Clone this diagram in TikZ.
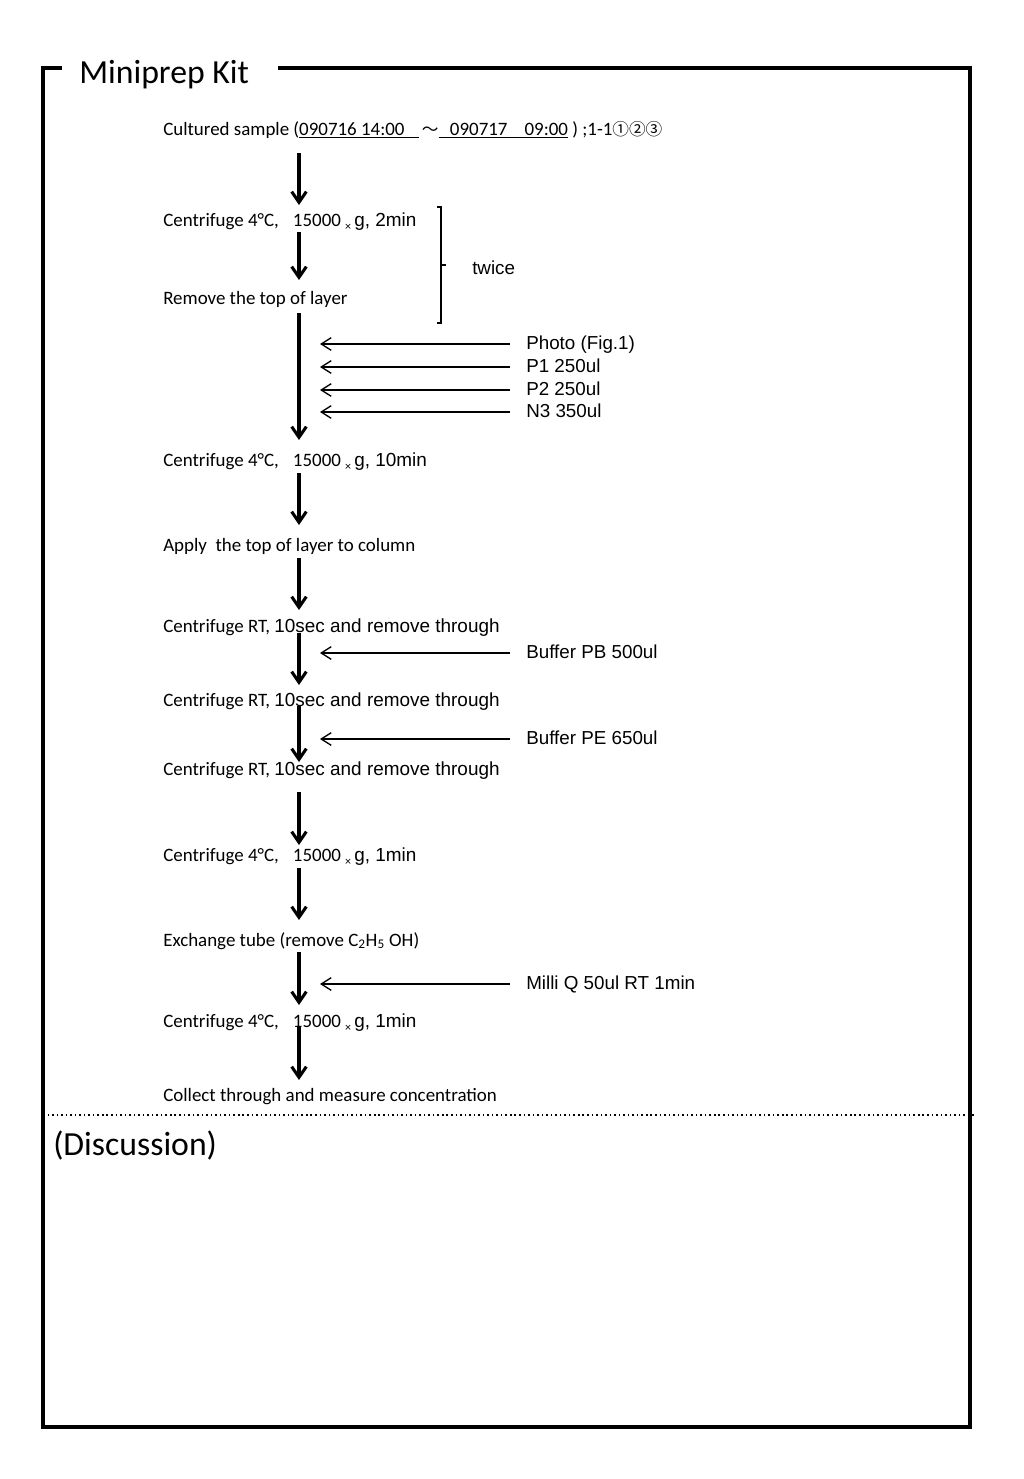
\documentclass[tikz,border=0pt]{standalone}
\usepackage{fontspec}
\setmainfont{Carlito}
\newfontfamily\arial{Liberation Sans}
\newfontfamily\cjk{Noto Sans CJK JP}
\usetikzlibrary{arrows.meta}
\newcommand{\timesg}{\raisebox{-3pt}{\fontsize{9}{10}\selectfont ×}\,{\arial g,}}
\begin{document}
\begin{tikzpicture}[x=0.75pt,y=-0.75pt,
  steptext/.style={anchor=base west, inner sep=0pt, font=\fontsize{14.2}{16}\selectfont},
  sidetext/.style={anchor=base west, inner sep=0pt, font=\arial\fontsize{14.1}{16}\selectfont},
  bigtext/.style={anchor=base west, inner sep=0pt, font=\fontsize{25.3}{30}\selectfont},
  mainarrow/.style={line width=2.3pt, -{Straight Barb[length=8pt,width=11pt]}},
  addarrow/.style={line width=1pt, -{Straight Barb[length=7.5pt,width=9.5pt]}},
  frame/.style={line width=3pt}]
\useasboundingbox (0,0) rectangle (1024,1479);
% frame
\draw[frame] (62,68) -- (43,68) -- (43,1427) -- (970,1427) -- (970,68) -- (278,68);
\node[bigtext] (title) at (79,83) {Miniprep Kit};
% steps
\node[steptext] (s1) at (163,135) {Cultured sample (\underline{090716 14:00\hspace{0.75em}}\,{\cjk\fontsize{12.5}{14}\selectfont ～}\underline{\hspace{0.6em}090717\hspace{0.9em}09:00} ) ;1-1{\cjk\fontsize{12.5}{14}\selectfont ①②③}};
\node[steptext] (s2) at (163,226) {Centrifuge 4°C,\hspace{0.75em}15000 \timesg{\arial\ 2min}};
\node[steptext] (s3) at (163,304) {Remove the top of layer};
\node[steptext] (s4) at (163,466) {Centrifuge 4°C,\hspace{0.75em}15000 \timesg{\arial\ 10min}};
\node[steptext] (s5) at (163,551) {Apply\ \ the top of layer to column};
\node[steptext] (s6) at (163,632) {Centrifuge RT, {\arial 10sec and remove through}};
\node[steptext] (s7) at (163,706) {Centrifuge RT, {\arial 10sec and remove through}};
\node[steptext] (s8) at (163,775) {Centrifuge RT, {\arial 10sec and remove through}};
\node[steptext] (s9) at (163,861) {Centrifuge 4°C,\hspace{0.75em}15000 \timesg{\arial\ 1min}};
\node[steptext] (s10) at (163,946) {Exchange tube (remove C\textsubscript{2}H\textsubscript{5} OH)};
\node[steptext] (s11) at (163,1027) {Centrifuge 4°C,\hspace{0.75em}15000 \timesg{\arial\ 1min}};
\node[steptext] (s12) at (163,1101) {Collect through and measure concentration};
% main arrows
\foreach \i/\a/\b in {1/153/205, 2/232/280, 3/313/440, 4/473/525, 5/558/610, 6/633/685, 7/706/762, 8/792/845, 9/868/920, 10/952/1005, 11/1026/1080}{
  \coordinate (m\i a) at (299,\a);
  \coordinate (m\i b) at (299,\b);
  \draw[mainarrow] (m\i a) -- (m\i b);
}
% brace
\coordinate (bt) at (437,207);
\coordinate (bb) at (437,323);
\coordinate (bm) at (441,265);
\draw[line width=1pt] (bt) -- ++(4,0) |- (bb);
\draw[line width=1pt] (bm) -- ++(5,0);
\node[sidetext] (twice) at (472,274) {twice};
% side additions
\foreach \n/\y/\t in {a1/344/Photo (Fig.1), a2/367/P1 250ul, a3/390/P2 250ul, a4/412/N3 350ul, a5/653/Buffer PB 500ul, a6/739/Buffer PE 650ul, a7/984/Milli Q 50ul RT 1min}{
  \node[sidetext] (\n) at (526,\y+5) {\t};
  \coordinate (\n s) at (510,\y);
  \coordinate (\n e) at (320,\y);
  \draw[addarrow] (\n s) -- (\n e);
}
% discussion
\coordinate (d1) at (43,1115);
\coordinate (d2) at (976,1115);
\draw[line width=1.2pt, dash pattern=on 1.2pt off 2.2pt] (d1) -- (d2);
\node[bigtext] (disc) at (53,1155) {(Discussion)};
\end{tikzpicture}
\end{document}
